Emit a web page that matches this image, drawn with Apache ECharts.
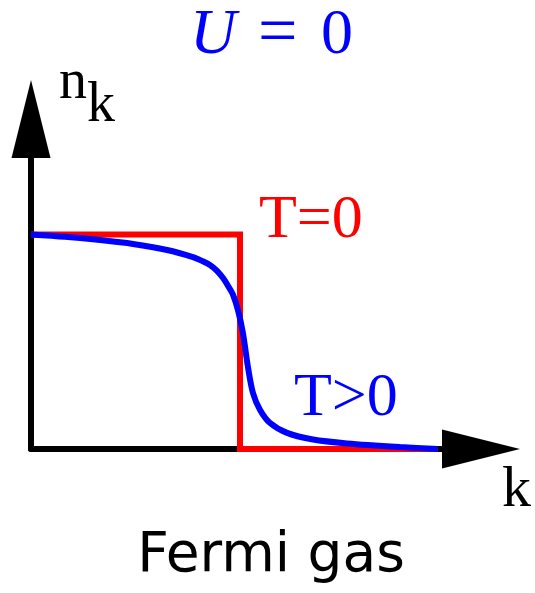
<!DOCTYPE html>
<html>
<head>
<meta charset="utf-8">
<script src="https://cdn.jsdelivr.net/npm/echarts@6/dist/echarts.min.js"></script>
<style>
  html, body { margin: 0; padding: 0; background: #fff; }
  #fermiChart { width: 535px; height: 593px; }
</style>
</head>
<body>
<div id="fermiChart"></div>
<script>
// k in units of k_F, n_k from 0 to 1
const kStep = [0, 1, 1, 1.947];
const nStep = [1, 1, 0, 0];

const kWarm = [0, 0.163, 0.33, 0.488, 0.651, 0.775, 0.818, 0.856, 0.89, 0.919, 0.943, 0.967, 0.99,
  1.014, 1.038, 1.062, 1.096, 1.144, 1.225, 1.349, 1.512, 1.766, 1.947];
const nWarm = [1.0, 0.989, 0.974, 0.956, 0.928, 0.895, 0.877, 0.858, 0.831, 0.797, 0.76, 0.718, 0.648,
  0.541, 0.382, 0.261, 0.182, 0.121, 0.075, 0.044, 0.026, 0.009, 0.0];

const kMax = 2.153;
const nMax = 1.5385;

const serif = "'Liberation Serif', 'Times New Roman', serif";

const axisCommon = {
  type: "value",
  min: 0,
  axisLine: {
    show: true,
    symbol: ["none", "triangle"],
    symbolSize: [39, 78],
    lineStyle: { color: "#000", width: 6 },
  },
  axisTick: { show: false },
  axisLabel: { show: false },
  splitLine: { show: false },
};

const options = {
  animation: false,
  grid: { left: 31, top: 119, right: 54, bottom: 144 },
  xAxis: Object.assign({}, axisCommon, { max: kMax }),
  yAxis: Object.assign({}, axisCommon, { max: nMax }),
  series: [
    {
      name: "T=0",
      type: "line",
      data: kStep.map((k, i) => [k, nStep[i]]),
      showSymbol: false,
      silent: true,
      lineStyle: { color: "#ff0000", width: 6, join: "miter" },
      z: 3,
    },
    {
      name: "T>0",
      type: "line",
      data: kWarm.map((k, i) => [k, nWarm[i]]),
      smooth: 0.3,
      showSymbol: false,
      silent: true,
      lineStyle: { color: "#0000ff", width: 6 },
      z: 4,
    },
  ],
  graphic: [
    // U = 0
    { type: "text", style: { x: 190, y: 36, text: "U", fill: "#0000ff", font: "italic 64px " + serif, verticalAlign: "middle" } },
    { type: "text", style: { x: 258, y: 36, text: "=", fill: "#0000ff", font: "70px " + serif, verticalAlign: "middle" } },
    { type: "text", style: { x: 321, y: 36, text: "0", fill: "#0000ff", font: "64px " + serif, verticalAlign: "middle" } },
    // n_k
    { type: "text", style: { x: 59, y: 83, text: "n", fill: "#000", font: "56px " + serif, verticalAlign: "middle" } },
    { type: "text", style: { x: 87, y: 106, text: "k", fill: "#000", font: "56px " + serif, verticalAlign: "middle" } },
    { type: "text", style: { x: 259, y: 221, text: "T=0", fill: "#ff0000", font: "62px " + serif, verticalAlign: "middle" } },
    { type: "text", style: { x: 294, y: 399, text: "T>0", fill: "#0000ff", font: "62px " + serif, verticalAlign: "middle" } },
    { type: "text", style: { x: 502, y: 491, text: "k", fill: "#000", font: "58px " + serif, verticalAlign: "middle" } },
    {
      type: "text",
      style: {
        x: 271, y: 557, text: "Fermi gas", fill: "#000",
        font: "55px 'DejaVu Sans', sans-serif", align: "center", verticalAlign: "middle",
      },
    },
  ],
};

const chart = echarts.init(document.getElementById("fermiChart"));
chart.setOption(options);
</script>
</body>
</html>
